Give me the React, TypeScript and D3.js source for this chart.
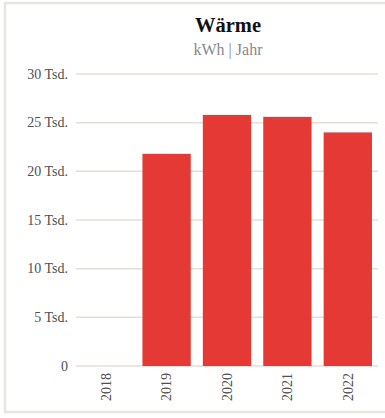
import React from "react";
import * as d3 from "d3";

const years = ["2018", "2019", "2020", "2021", "2022"];
const values = [0, 21800, 25800, 25600, 24000];
const yTicks = [0, 5000, 10000, 15000, 20000, 25000, 30000];
const title = "Wärme";
const subtitle = "kWh | Jahr";

const W = 385;
const H = 418;
const left = 76;
const right = 378;
const top = 74;
const bottom = 366;

export default function App() {
  const x = d3.scaleBand<string>().domain(years).range([left, right]).paddingInner(0.2).paddingOuter(0.1);
  const y = d3.scaleLinear().domain([0, 30000]).range([bottom, top]);
  const fmt = (v: number) => (v === 0 ? "0" : `${v / 1000} Tsd.`);
  const font = "'Liberation Serif', 'Times New Roman', serif";
  return (
    <svg width={W} height={H} style={{ position: "absolute", left: 0, top: 0 }} fontFamily={font}>
      <rect x={0} y={0} width={W} height={H} fill="#fff" />
      <rect x={5} y={3} width={W + 10} height={409} fill="none" stroke="#e6e5df" strokeWidth={2.5} />
      <text x={(left + right) / 2 + 1} y={32} textAnchor="middle" fontWeight="bold" fontSize={20.5} fill="#111">
        {title}
      </text>
      <text x={(left + right) / 2 + 1} y={55} textAnchor="middle" fontSize={16} fill="#888">
        {subtitle}
      </text>
      {yTicks.map((t) => (
        <g key={t}>
          <line x1={left} x2={right} y1={y(t)} y2={y(t)} stroke="#e4dfd6" strokeWidth={1.5} />
          <text x={68} y={y(t)} dy="0.33em" textAnchor="end" fontSize={14} fill="#505050">
            {fmt(t)}
          </text>
        </g>
      ))}
      {years.map((yr, i) => (
        <rect key={yr} x={x(yr)} y={y(values[i])} width={x.bandwidth()} height={bottom - y(values[i])} fill="#e53935" />
      ))}
      {years.map((yr) => {
        const cx = (x(yr) as number) + x.bandwidth() / 2;
        return (
          <text key={yr} transform={`translate(${cx + 4.8},373) rotate(-90)`} textAnchor="end" fontSize={14} fill="#505050">
            {yr}
          </text>
        );
      })}
    </svg>
  );
}
